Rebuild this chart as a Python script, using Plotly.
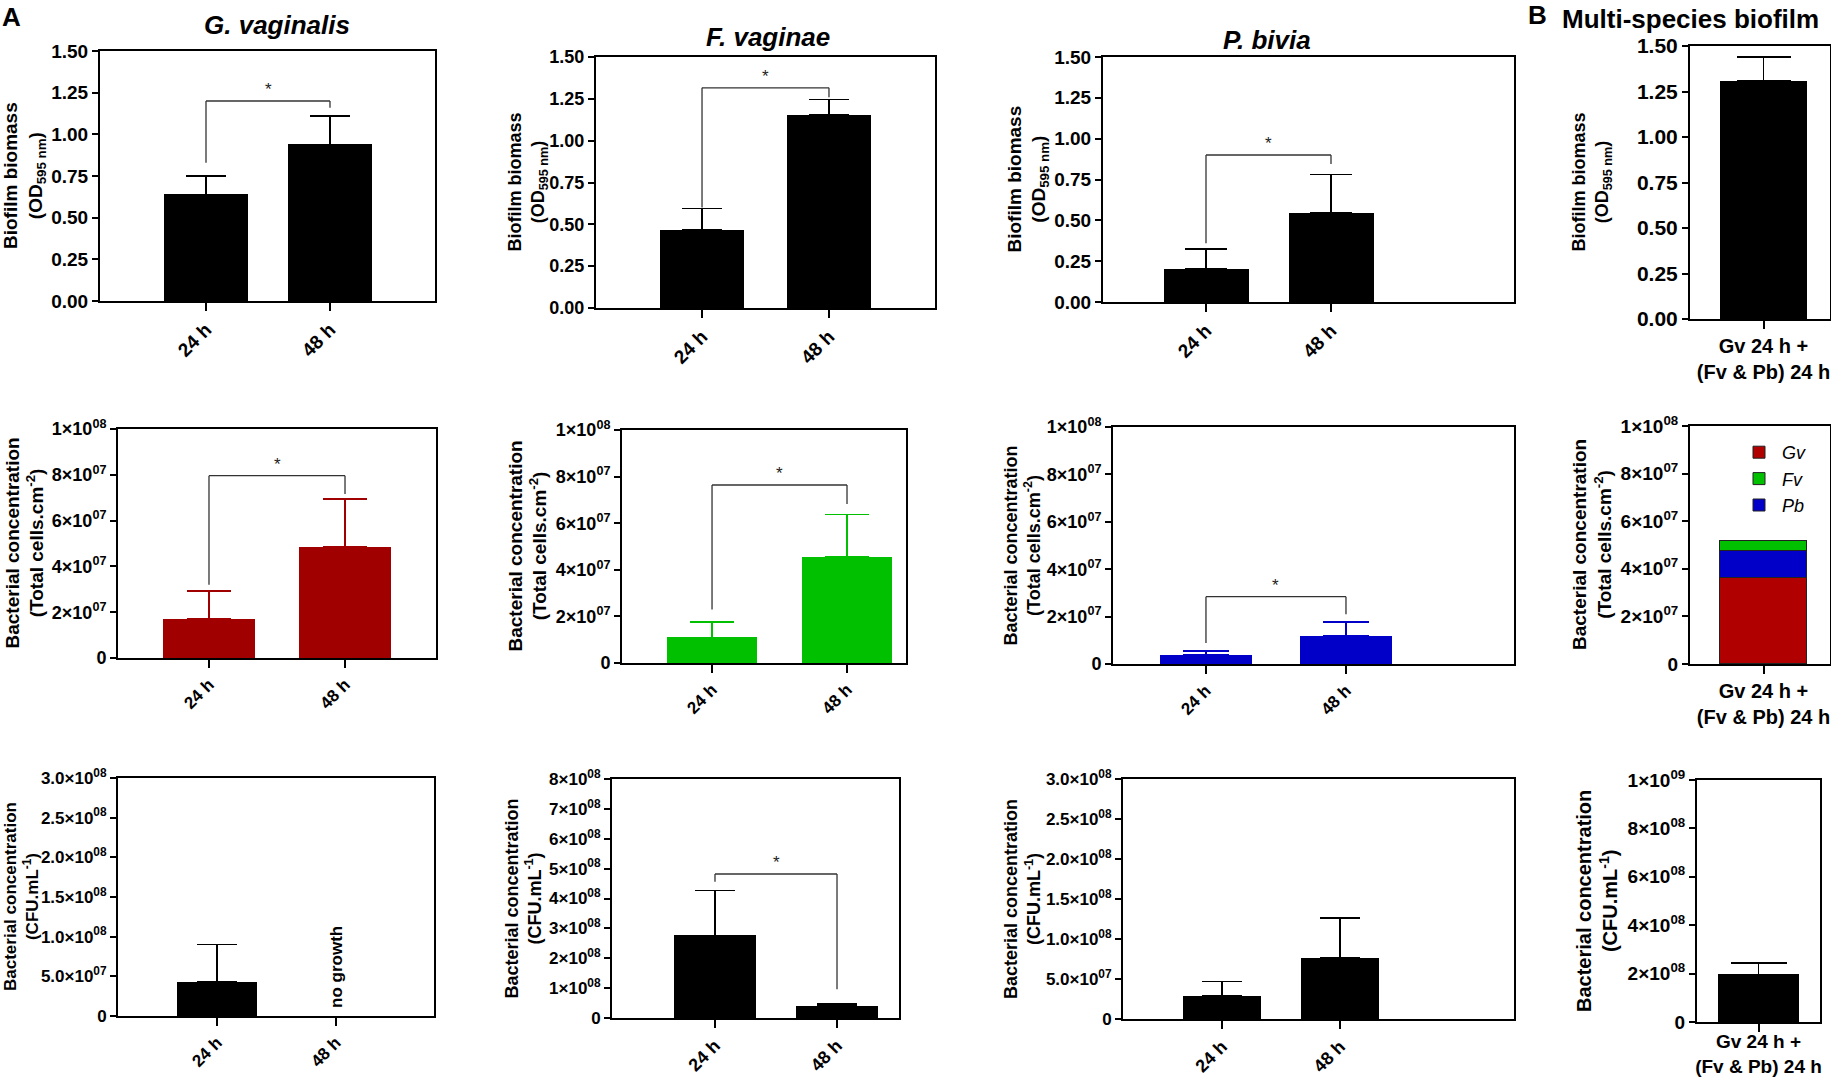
import plotly.graph_objects as go

W, H = 1831, 1077

# ---------------- data ----------------
categories = ["24 h", "48 h"]
multi_category = ["Gv 24 h +<br>(Fv & Pb) 24 h"]

# Row 1: biofilm biomass (OD595 nm), mean and SD
gv_biomass = [0.64, 0.94]
gv_biomass_sd = [0.11, 0.17]
fv_biomass = [0.465, 1.155]
fv_biomass_sd = [0.13, 0.09]
pb_biomass = [0.205, 0.545]
pb_biomass_sd = [0.12, 0.235]
multi_biomass = [1.31]
multi_biomass_sd = [0.13]

# Row 2: total cells.cm-2
gv_cells = [1.70e7, 4.85e7]
gv_cells_sd = [1.23e7, 2.09e7]
fv_cells = [1.10e7, 4.54e7]
fv_cells_sd = [0.67e7, 1.83e7]
pb_cells = [0.38e7, 1.18e7]
pb_cells_sd = [0.17e7, 0.59e7]
multi_cells_gv = [3.60e7]
multi_cells_pb = [1.14e7]
multi_cells_fv = [0.42e7]

# Row 3: CFU.mL-1
gv_cfu = [4.3e7, None]
gv_cfu_sd = [4.74e7, None]
fv_cfu = [2.77e8, 0.40e8]
fv_cfu_sd = [1.49e8, 0.07e8]
pb_cfu = [2.88e7, 7.67e7]
pb_cfu_sd = [1.79e7, 4.93e7]
multi_cfu = [1.97e8]
multi_cfu_sd = [0.46e8]

# significance brackets: [bracket height, left leg end, right leg end]
gv_biomass_sig = [1.20, 0.83, 1.16]
fv_biomass_sig = [1.316, 0.60, 1.26]
pb_biomass_sig = [0.90, 0.36, 0.845]
gv_cells_sig = [7.96e7, 3.2e7, 7.16e7]
fv_cells_sig = [7.64e7, 2.3e7, 6.82e7]
pb_cells_sig = [2.84e7, 0.89e7, 2.1e7]
fv_cfu_sig = [4.82e8, 4.56e8, 0.96e8]

# tick values / labels
biomass_ticks = [0, 0.25, 0.5, 0.75, 1.0, 1.25, 1.5]
biomass_ticktext = ["0.00", "0.25", "0.50", "0.75", "1.00", "1.25", "1.50"]
cells_ticks = [0, 2e7, 4e7, 6e7, 8e7, 1e8]
cells_ticktext = ["0", "2×10<sup>07</sup>", "4×10<sup>07</sup>", "6×10<sup>07</sup>",
                  "8×10<sup>07</sup>", "1×10<sup>08</sup>"]
cfu3_ticks = [0, 5e7, 1e8, 1.5e8, 2e8, 2.5e8, 3e8]
cfu3_ticktext = ["0", "5.0×10<sup>07</sup>", "1.0×10<sup>08</sup>", "1.5×10<sup>08</sup>",
                 "2.0×10<sup>08</sup>", "2.5×10<sup>08</sup>", "3.0×10<sup>08</sup>"]
cfu8_ticks = [0, 1e8, 2e8, 3e8, 4e8, 5e8, 6e8, 7e8, 8e8]
cfu8_ticktext = ["0", "1×10<sup>08</sup>", "2×10<sup>08</sup>", "3×10<sup>08</sup>",
                 "4×10<sup>08</sup>", "5×10<sup>08</sup>", "6×10<sup>08</sup>",
                 "7×10<sup>08</sup>", "8×10<sup>08</sup>"]
cfum_ticks = [0, 2e8, 4e8, 6e8, 8e8, 1e9]
cfum_ticktext = ["0", "2×10<sup>08</sup>", "4×10<sup>08</sup>", "6×10<sup>08</sup>",
                 "8×10<sup>08</sup>", "1×10<sup>09</sup>"]

RED, GREEN, BLUE, BLACK = "#a00000", "#00c000", "#0000c8", "black"
FONT = "Liberation Sans, Arial, sans-serif"

biomass_title = "Biofilm biomass<br>(OD<sub>595 nm</sub>)"
cells_title = "Bacterial concentration<br>(Total cells.cm<sup>-2</sup>)"
cfu_title = "Bacterial concentration<br>(CFU.mL<sup>-1</sup>)"

# panel layout: box in pixels (x0, x1, y0, y1), x range, y range, ticks
panels = [
    dict(box=(100, 435, 51, 301), xr=[-0.855, 1.847], yr=[0, 1.5], tv=biomass_ticks, tt=biomass_ticktext,
         tfs=19, title=biomass_title, tx=24, tts=19, xfs=19),
    dict(box=(596, 935, 57, 308), xr=[-0.835, 1.835], yr=[0, 1.5], tv=biomass_ticks, tt=biomass_ticktext,
         tfs=18, title=biomass_title, tx=527, tts=18, xfs=19),
    dict(box=(1103, 1514, 57, 302), xr=[-0.824, 2.464], yr=[0, 1.5], tv=biomass_ticks, tt=biomass_ticktext,
         tfs=19, title=biomass_title, tx=1028, tts=19, xfs=19),
    dict(box=(1690, 1830, 46, 319), xr=[-0.525, 0.475], yr=[0, 1.5], tv=biomass_ticks, tt=biomass_ticktext,
         tfs=21, title=biomass_title, tx=1591, tts=18, xfs=20),
    dict(box=(118, 436, 429, 658), xr=[-0.669, 1.669], yr=[0, 1e8], tv=cells_ticks, tt=cells_ticktext,
         tfs=18, title=cells_title, tx=24, tts=19, xfs=17),
    dict(box=(622, 906, 430, 663), xr=[-0.667, 1.437], yr=[0, 1e8], tv=cells_ticks, tt=cells_ticktext,
         tfs=18, title=cells_title, tx=527, tts=19, xfs=17),
    dict(box=(1113, 1514, 427, 664), xr=[-0.664, 2.2], yr=[0, 1e8], tv=cells_ticks, tt=cells_ticktext,
         tfs=18, title=cells_title, tx=1022, tts=18, xfs=17),
    dict(box=(1690, 1830, 426, 664), xr=[-0.525, 0.475], yr=[0, 1e8], tv=cells_ticks, tt=cells_ticktext,
         tfs=19, title=cells_title, tx=1592, tts=19, xfs=20),
    dict(box=(118, 434, 778, 1016), xr=[-0.832, 1.824], yr=[0, 3e8], tv=cfu3_ticks, tt=cfu3_ticktext,
         tfs=17, title=cfu_title, tx=21, tts=17, xfs=17),
    dict(box=(612, 899, 779, 1018), xr=[-0.844, 1.508], yr=[0, 8e8], tv=cfu8_ticks, tt=cfu8_ticktext,
         tfs=17, title=cfu_title, tx=523, tts=18, xfs=18),
    dict(box=(1123, 1514, 779, 1019), xr=[-0.839, 2.475], yr=[0, 3e8], tv=cfu3_ticks, tt=cfu3_ticktext,
         tfs=17, title=cfu_title, tx=1022, tts=18, xfs=18),
    dict(box=(1697, 1820, 780, 1022), xr=[-0.5, 0.5], yr=[0, 1e9], tv=cfum_ticks, tt=cfum_ticktext,
         tfs=19, title=cfu_title, tx=1597, tts=20, xfs=19),
]

fig = go.Figure()
layout = {}
annotations = []
shapes = []


def axname(i):
    return ("x", "y") if i == 0 else (f"x{i + 1}", f"y{i + 1}")


def axkey(i):
    return ("xaxis", "yaxis") if i == 0 else (f"xaxis{i + 1}", f"yaxis{i + 1}")


for i, p in enumerate(panels):
    x0, x1, y0, y1 = p["box"]
    xk, yk = axkey(i)
    xn, yn = axname(i)
    multi = (i % 4 == 3)
    common = dict(showline=True, linewidth=2, linecolor="black", mirror=True, ticks="outside",
                  tickwidth=2, tickcolor="black", showgrid=False, zeroline=False,
                  automargin=False, fixedrange=True)
    layout[xk] = dict(common, domain=[x0 / W, x1 / W], anchor=yn, type="category",
                      range=p["xr"], ticklen=8,
                      tickangle=0 if multi else -45,
                      tickfont=dict(family=FONT, size=p["xfs"], color="black", weight="bold"))
    if i == 11:
        layout[xk]["ticklabelstandoff"] = -7
    layout[yk] = dict(common, domain=[1 - y1 / H, 1 - y0 / H], anchor=xn, range=p["yr"],
                      tickvals=p["tv"], ticktext=p["tt"], ticklen=6,
                      tickfont=dict(family=FONT, size=p["tfs"], color="black", weight="bold"))
    annotations.append(dict(xref="paper", yref="paper", x=p["tx"] / W, y=1 - (y0 + y1) / 2 / H,
                            text=p["title"], textangle=-90, showarrow=False,
                            xanchor="center", yanchor="middle",
                            font=dict(family=FONT, size=p["tts"], color="black", weight="bold")))


def bar(i, y, sd, color, width, cap):
    xn, yn = axname(i)
    fig.add_trace(go.Bar(
        x=categories, y=y, xaxis=xn, yaxis=yn, width=width, marker_color=color,
        marker_line_width=0, showlegend=False,
        error_y=dict(type="data", symmetric=False, array=sd, arrayminus=[0] * len(y),
                     color=color, thickness=1.5, width=cap)))


def single(i, y, sd, cap, width):
    xn, yn = axname(i)
    fig.add_trace(go.Bar(
        x=multi_category, y=y, xaxis=xn, yaxis=yn, width=width, marker_color=BLACK,
        marker_line_width=0, showlegend=False,
        error_y=dict(type="data", symmetric=False, array=sd, arrayminus=[0],
                     color=BLACK, thickness=1.5, width=cap)))


def bracket(i, sig):
    xn, yn = axname(i)
    h, l, r = sig
    line = dict(color="#333333", width=1.3)
    for (xa, ya, xb, yb) in [(0, l, 0, h), (0, h, 1, h), (1, h, 1, r)]:
        shapes.append(dict(type="line", xref=xn, yref=yn, x0=xa, y0=ya, x1=xb, y1=yb, line=line))
    annotations.append(dict(xref=xn, yref=yn, x=0.5, y=h, text="*", showarrow=False,
                            yanchor="bottom", yshift=0,
                            font=dict(family=FONT, size=17, color="#222222")))


bar(0, gv_biomass, gv_biomass_sd, BLACK, 0.67, 20)
bar(1, fv_biomass, fv_biomass_sd, BLACK, 0.66, 20)
bar(2, pb_biomass, pb_biomass_sd, BLACK, 0.68, 21)
single(3, multi_biomass, multi_biomass_sd, 27, 0.62)
bar(4, gv_cells, gv_cells_sd, RED, 0.67, 22)
bar(5, fv_cells, fv_cells_sd, GREEN, 0.67, 22)
bar(6, pb_cells, pb_cells_sd, BLUE, 0.66, 23)
bar(8, gv_cfu, gv_cfu_sd, BLACK, 0.68, 20)
bar(9, fv_cfu, fv_cfu_sd, BLACK, 0.67, 20)
bar(10, pb_cfu, pb_cfu_sd, BLACK, 0.66, 20)
single(11, multi_cfu, multi_cfu_sd, 28, 0.66)

# stacked multi-species cells
xn, yn = axname(7)
for name, vals, color, rank in [("Gv", multi_cells_gv, "#b00000", 1),
                                ("Pb", multi_cells_pb, "#0000c8", 3),
                                ("Fv", multi_cells_fv, "#00c000", 2)]:
    fig.add_trace(go.Bar(x=multi_category, y=vals, xaxis=xn, yaxis=yn, width=0.62,
                         name=f"<i>{name}</i>", legendrank=rank, marker_color=color,
                         marker_line=dict(color="#222222", width=1)))

bracket(0, gv_biomass_sig)
bracket(1, fv_biomass_sig)
bracket(2, pb_biomass_sig)
bracket(4, gv_cells_sig)
bracket(5, fv_cells_sig)
bracket(6, pb_cells_sig)
bracket(9, fv_cfu_sig)

# "no growth" label
annotations.append(dict(xref="x9", yref="y9", x=1, y=0, text="no growth", textangle=-90,
                        showarrow=False, yanchor="bottom", yshift=6,
                        font=dict(family=FONT, size=17, color="black", weight="bold")))

# panel titles
for text, px, py, size in [("A", 11, 17, 26), ("<i>G. vaginalis</i>", 277, 25, 26),
                           ("<i>F. vaginae</i>", 768, 37, 26), ("<i>P. bivia</i>", 1267, 40, 26),
                           ("B", 1537, 15, 26), ("Multi-species biofilm", 1690, 19, 26)]:
    annotations.append(dict(xref="paper", yref="paper", x=px / W, y=1 - py / H, text=text,
                            showarrow=False, xanchor="center", yanchor="middle",
                            font=dict(family=FONT, size=size, color="black", weight="bold")))

fig.update_layout(
    **layout,
    width=W, height=H, margin=dict(l=0, r=0, t=0, b=0),
    paper_bgcolor="white", plot_bgcolor="white",
    barmode="stack", bargap=0,
    font=dict(family=FONT, color="black"),
    annotations=annotations, shapes=shapes,
    showlegend=True,
    legend=dict(x=1736 / W, y=1 - 434 / H, xanchor="left", yanchor="top",
                bgcolor="rgba(0,0,0,0)", traceorder="normal", itemwidth=36,
                font=dict(family=FONT, size=18, color="black"), tracegroupgap=0),
)

fig.write_html("out.html", config={"displayModeBar": False},
               post_script="document.body.style.margin='0px';")
